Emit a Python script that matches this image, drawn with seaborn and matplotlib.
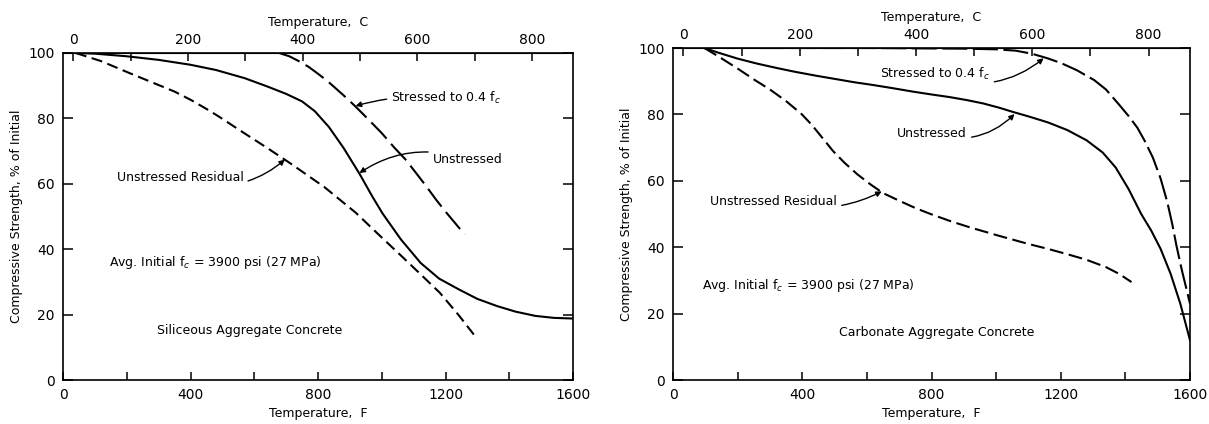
import numpy as np
import pandas as pd
import matplotlib
matplotlib.use("Agg")
import matplotlib.pyplot as plt
import seaborn as sns
from matplotlib.ticker import MultipleLocator, FixedLocator

# ---------------- data (Temperature in F, strength in % of initial) ----------------
# Siliceous aggregate concrete
sil_unstressed_F = [40, 100, 200, 300, 400, 480, 570, 640, 700, 750, 790, 834, 880, 930, 970, 1002, 1060, 1122, 1180, 1242, 1300, 1362, 1420, 1482, 1540, 1600]
sil_unstressed_v = [100, 99.8, 99, 97.9, 96.4, 94.8, 92.3, 89.8, 87.5, 85.2, 82.2, 77.4, 71, 63.1, 56.2, 51, 43, 35.8, 31, 27.7, 24.8, 22.6, 20.9, 19.6, 19, 18.8]
sil_stressed_F = [678, 710, 740, 770, 798, 830, 860, 890, 918, 960, 1000, 1040, 1074, 1110, 1140, 1170, 1200, 1230, 1260]
sil_stressed_v = [100, 99, 97.5, 95.8, 93.8, 91.4, 88.8, 86.2, 83.6, 79.5, 75.5, 71, 67.5, 63, 59.2, 55.2, 51.5, 48, 44.5]
sil_residual_F = [40, 120, 210, 300, 350, 402, 450, 490, 570, 640, 714, 820, 918, 990, 1062, 1120, 1182, 1240, 1296]
sil_residual_v = [100, 97.5, 93.8, 90.2, 88.2, 85.6, 82.9, 80.5, 75.4, 71, 66.2, 59, 51.2, 44.5, 37.9, 32.5, 26.7, 20, 13]

# Carbonate aggregate concrete
car_unstressed_F = [97, 140, 200, 260, 320, 374, 440, 500, 560, 616, 680, 740, 800, 857, 910, 960, 1010, 1050, 1100, 1160, 1220, 1280, 1330, 1370, 1410, 1449, 1480, 1509, 1540, 1570, 1600]
car_unstressed_v = [100, 98.6, 96.8, 95.3, 94, 92.9, 91.7, 90.7, 89.7, 88.9, 87.9, 86.9, 86, 85.2, 84.3, 83.3, 82, 80.8, 79.4, 77.6, 75.3, 72.2, 68.5, 64, 57.5, 50, 45, 39.5, 32, 23, 12]
car_stressed_F = [266, 600, 900, 1000, 1060, 1110, 1159, 1200, 1250, 1304, 1340, 1380, 1410, 1437, 1460, 1485, 1509, 1530, 1545, 1558, 1575, 1590, 1600]
car_stressed_v = [100, 100, 99.8, 99.6, 99.2, 98.3, 96.9, 95.5, 93.3, 90.3, 87.5, 83, 79.5, 76, 72, 67, 60.7, 53.5, 47, 40.5, 33, 27, 23]
car_residual_F = [97, 140, 200, 254, 300, 350, 398, 430, 460, 495, 530, 570, 610, 650, 700, 750, 797, 860, 918, 1010, 1099, 1160, 1220, 1280, 1340, 1380, 1419]
car_residual_v = [100, 97.5, 93.8, 90.3, 87.5, 84, 80.1, 76.8, 73.2, 69, 65.5, 62, 59, 56.3, 54, 51.8, 50, 47.8, 46, 43.4, 41, 39.5, 37.9, 36.2, 34, 32, 29.5]

y_ticks = [0, 20, 40, 60, 80, 100]
f_ticks = [0, 400, 800, 1200, 1600]
c_ticks = [0, 200, 400, 600, 800]

sns.set_style("ticks")
plt.rcParams['font.family'] = ['DejaVu Sans']
plt.rcParams['lines.scale_dashes'] = False
for key in ['text.color', 'axes.labelcolor', 'xtick.color', 'ytick.color', 'axes.edgecolor']:
    plt.rcParams[key] = 'black'

fig = plt.figure(figsize=(12.09, 4.24), dpi=100)
ax1 = fig.add_axes([63 / 1209, 44 / 424, 510 / 1209, 327 / 424])
ax2 = fig.add_axes([673 / 1209, 44 / 424, 517 / 1209, 332 / 424])

LW = 1.5


def draw(ax, F, v, dashes=None):
    df = pd.DataFrame({"F": F, "v": v})
    sns.lineplot(data=df, x="F", y="v", ax=ax, color="black", lw=LW, sort=False,
                 estimator=None)
    if dashes is not None:
        ax.lines[-1].set_dashes(dashes)


def f2c(f):
    return (np.asarray(f) - 32.0) / 1.8


def c2f(c):
    return np.asarray(c) * 1.8 + 32.0


def style(ax):
    ax.set_xlim(0, 1600)
    ax.set_ylim(0, 100)
    ax.xaxis.set_major_locator(FixedLocator(f_ticks))
    ax.xaxis.set_minor_locator(MultipleLocator(200))
    ax.yaxis.set_major_locator(FixedLocator(y_ticks))
    ax.set_xticklabels([str(t) for t in f_ticks])
    ax.tick_params(axis="both", which="both", direction="in", width=1.1, labelsize=10,
                   right=True, color="black", labelcolor="black")
    ax.tick_params(axis="x", which="both", length=6, pad=6)
    ax.tick_params(axis="y", which="major", length=7, pad=6)
    for s in ax.spines.values():
        s.set_linewidth(1.2)
        s.set_color("black")
        s.set_visible(True)
    ax.set_xlabel("Temperature,  F", fontsize=9, labelpad=3)
    ax.set_ylabel("Compressive Strength, % of Initial", fontsize=9, labelpad=4)
    sec = ax.secondary_xaxis("top", functions=(f2c, c2f))
    sec.xaxis.set_major_locator(FixedLocator(c_ticks))
    sec.xaxis.set_minor_locator(MultipleLocator(100))
    sec.tick_params(axis="x", which="both", direction="in", length=6, width=1.1,
                    labelsize=10, pad=4, color="black", labelcolor="black")
    sec.set_xlabel("Temperature,  C", fontsize=9, labelpad=5)
    ax.grid(False)


# ---------------- left panel ----------------
draw(ax1, sil_unstressed_F, sil_unstressed_v)
draw(ax1, sil_stressed_F, sil_stressed_v, (16, 5))
draw(ax1, sil_residual_F, sil_residual_v, (8, 4))
style(ax1)

arw = dict(arrowstyle="-|>", color="black", lw=1.0, mutation_scale=8, shrinkA=1, shrinkB=0)
fs = 9
ax1.annotate("Stressed to 0.4 f$_c$", xy=(918, 83.8), xytext=(1030, 86.2), fontsize=fs,
             ha="left", va="center", arrowprops=dict(arw, connectionstyle="arc3,rad=0.1"))
ax1.annotate("Unstressed", xy=(930, 63.3), xytext=(1160, 67.4), fontsize=fs,
             ha="left", va="center", arrowprops=dict(arw, connectionstyle="arc3,rad=0.25"))
ax1.annotate("Unstressed Residual", xy=(696, 67.4), xytext=(168, 62), fontsize=fs,
             ha="left", va="center", arrowprops=dict(arw, connectionstyle="arc3,rad=0.3"))
ax1.text(144, 35.8, "Avg. Initial f$_c$ = 3900 psi (27 MPa)", fontsize=fs, ha="left", va="center")
ax1.text(294, 15, "Siliceous Aggregate Concrete", fontsize=fs, ha="left", va="center")

# ---------------- right panel ----------------
draw(ax2, car_unstressed_F, car_unstressed_v)
draw(ax2, car_stressed_F, car_stressed_v, (18, 4))
draw(ax2, car_residual_F, car_residual_v, (10, 4))
style(ax2)

ax2.annotate("Stressed to 0.4 f$_c$", xy=(1147, 96.9), xytext=(640, 92.3), fontsize=fs,
             ha="left", va="center", arrowprops=dict(arw, connectionstyle="arc3,rad=0.3"))
ax2.annotate("Unstressed", xy=(1057, 80.1), xytext=(694, 74.2), fontsize=fs,
             ha="left", va="center", arrowprops=dict(arw, connectionstyle="arc3,rad=0.3"))
ax2.annotate("Unstressed Residual", xy=(646, 56.8), xytext=(115, 53.8), fontsize=fs,
             ha="left", va="center", arrowprops=dict(arw, connectionstyle="arc3,rad=0.2"))
ax2.text(90, 28.5, "Avg. Initial f$_c$ = 3900 psi (27 MPa)", fontsize=fs, ha="left", va="center")
ax2.text(513, 14.2, "Carbonate Aggregate Concrete", fontsize=fs, ha="left", va="center")

fig.savefig("out.png", dpi=100)
